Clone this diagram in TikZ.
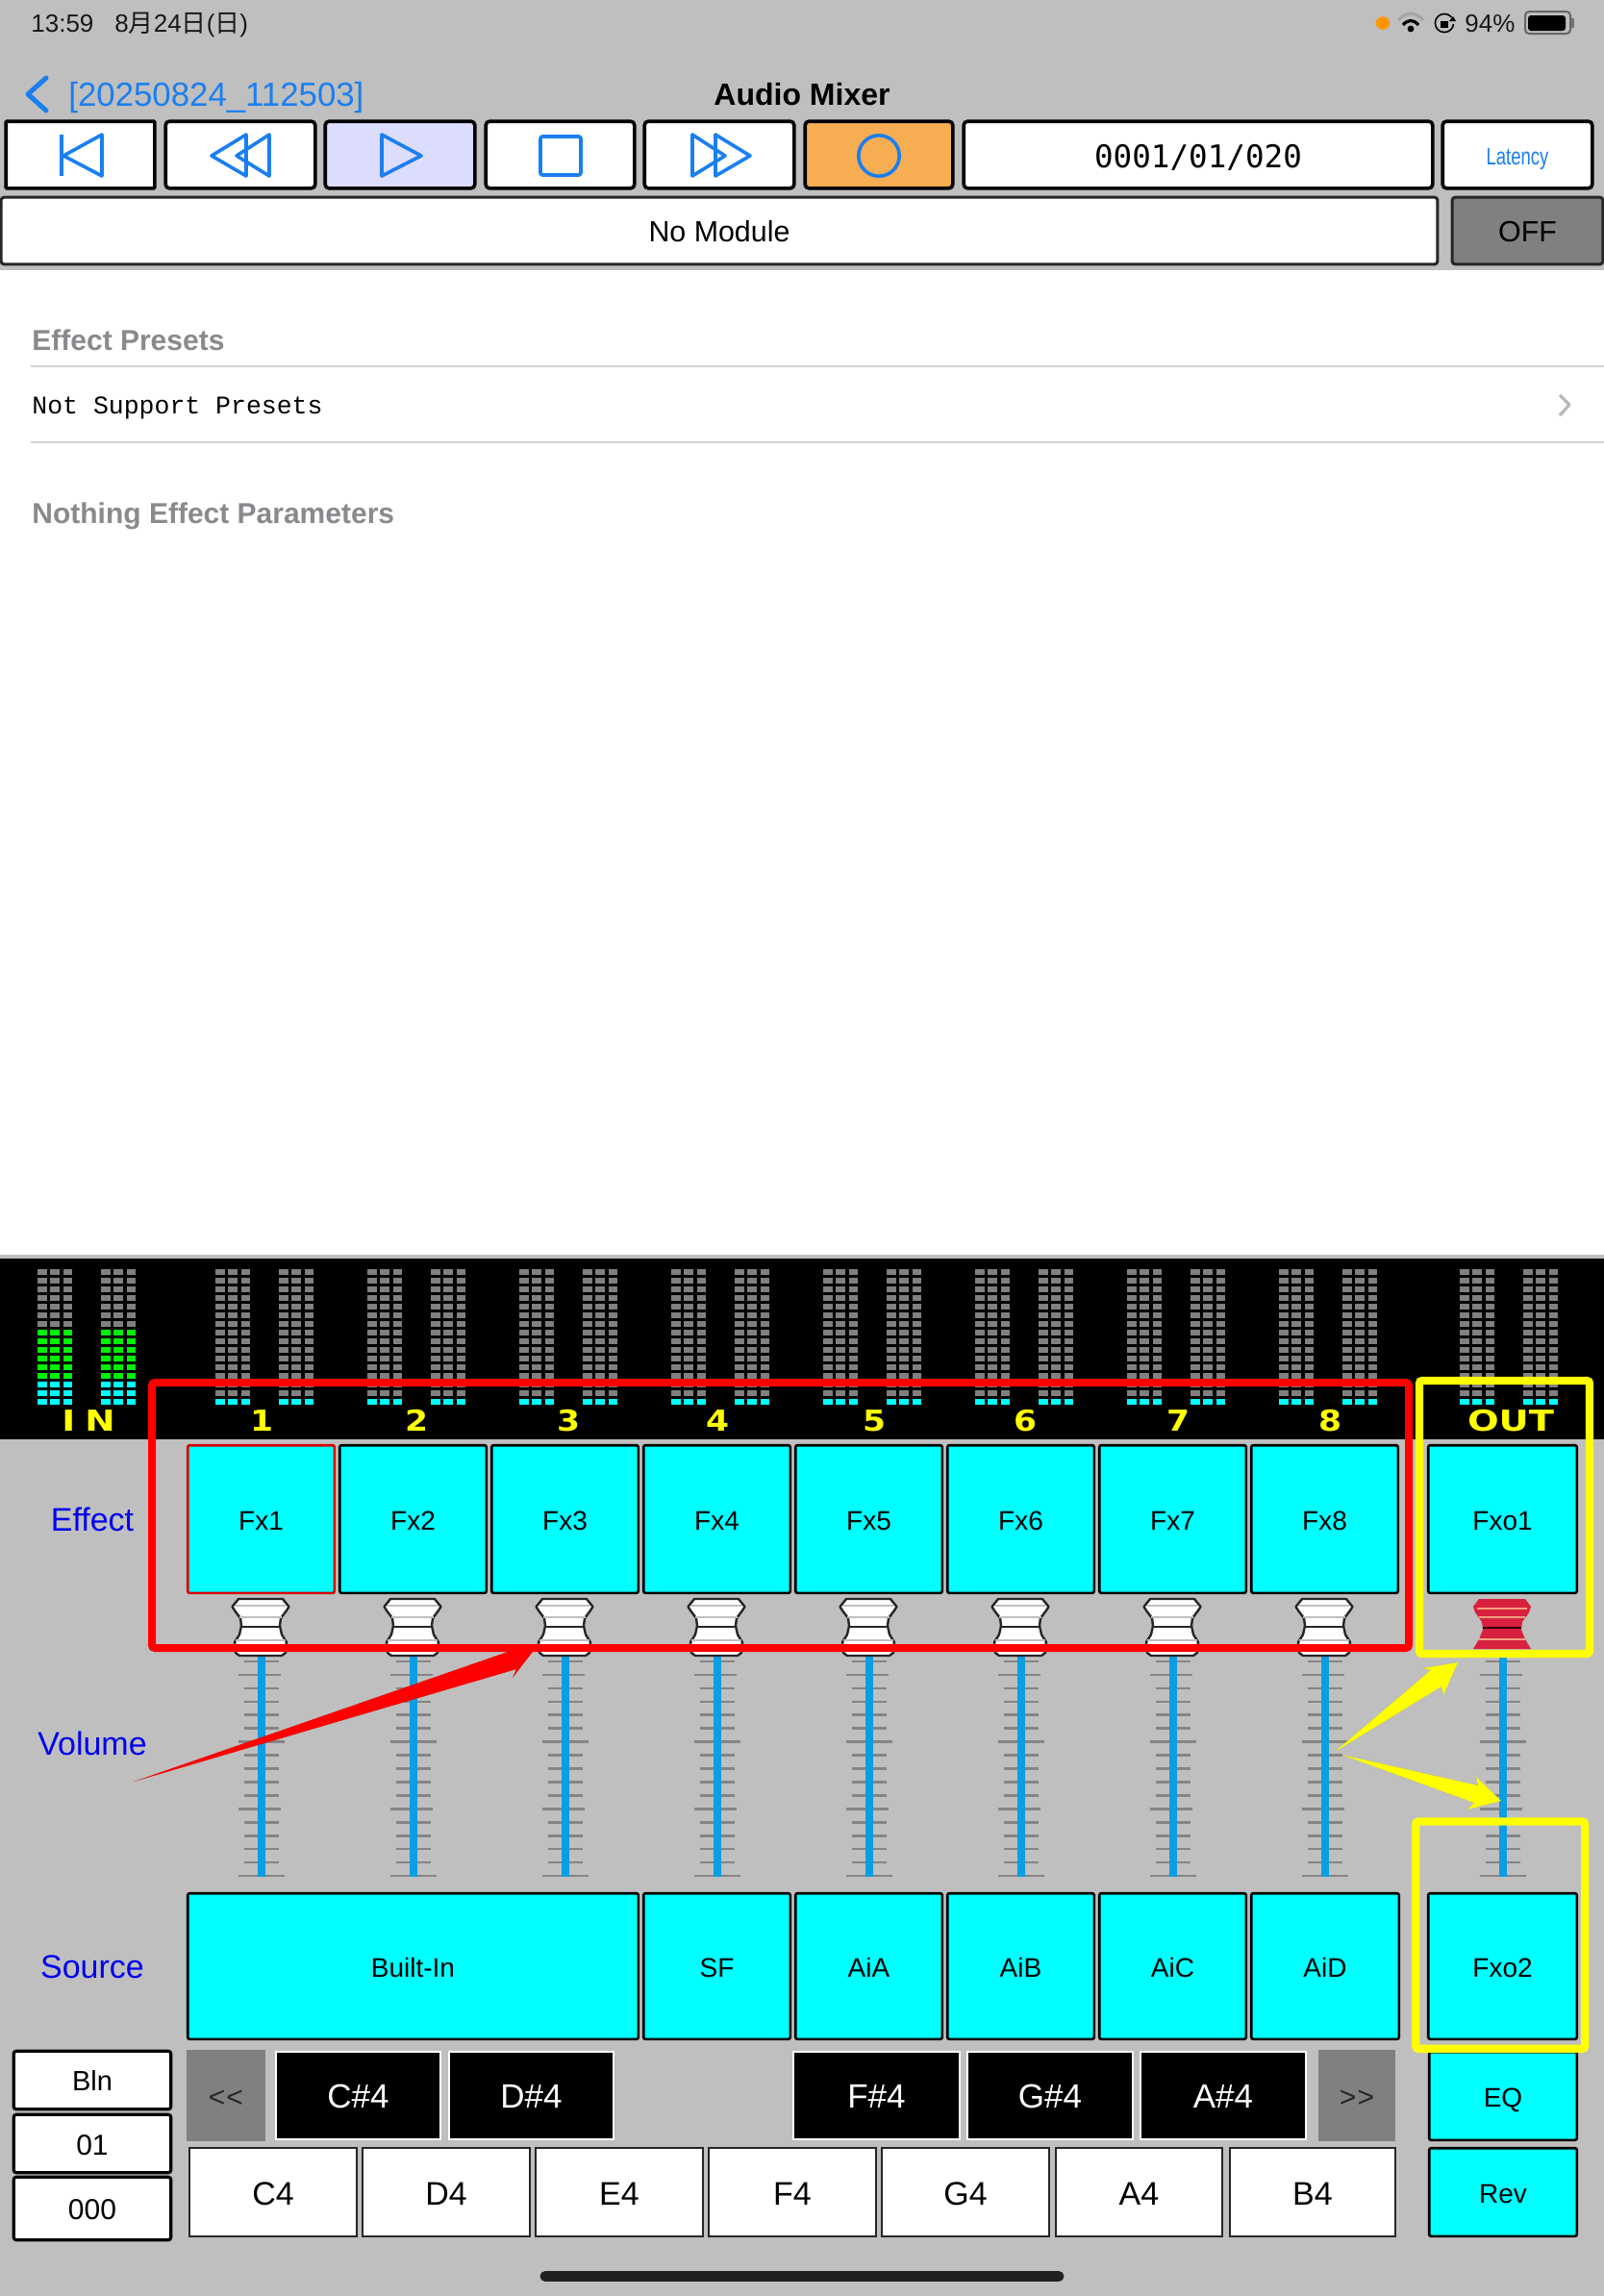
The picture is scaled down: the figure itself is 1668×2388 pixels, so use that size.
\documentclass[tikz,border=0pt]{standalone}
\usepackage{fontspec}
\setmainfont{Liberation Sans}
\newfontfamily\cjkfont{Noto Sans CJK JP}
\newfontfamily\monoa{DejaVu Sans Mono}
\newfontfamily\monob{Liberation Mono}
\newfontfamily\pixfont{DejaVu Sans}
\definecolor{uibg}{HTML}{BFBFBF}
\definecolor{uiblue}{HTML}{1A7FF0}
\definecolor{uicyan}{HTML}{00FFFF}
\definecolor{uiyellow}{HTML}{FFFF00}
\definecolor{uired}{HTML}{FF0000}
\definecolor{uigreen}{HTML}{00F000}
\definecolor{uiorange}{HTML}{FF9500}
\definecolor{faderblue}{HTML}{0C9DE3}
\definecolor{tickgray}{HTML}{858585}
\definecolor{dotgray}{HTML}{808080}
\definecolor{headgray}{HTML}{8A8A8E}
\definecolor{labelblue}{HTML}{0000EE}
\definecolor{playfill}{HTML}{DCDCFC}
\definecolor{recfill}{HTML}{F7AD52}
\definecolor{knobred}{HTML}{D8203F}
\definecolor{knobstripe}{HTML}{F5A080}
\newcommand{\fsz}[1]{\fontsize{#1}{#1}\selectfont}
\newcommand{\uibtn}[7]{%
  \pgfmathsetmacro\uicx{(#2+#4)/2}%
  \pgfmathsetmacro\uicy{(#3+#5)/2}%
  \pgfmathsetmacro\uiw{(#4-#2)*0.5-1.2}%
  \pgfmathsetmacro\uih{(#5-#3)*0.5-1.2}%
  \node[#6,minimum width=\uiw pt,minimum height=\uih pt] (#1) at (\uicx,\uicy)
    {\raisebox{0pt}[\dimexpr\fontcharht\font`X+1.4pt\relax][0pt]{#7}};}
\tikzset{
  x=0.5pt,y=-0.5pt,
  topbtn/.style={draw=black,line width=1.8pt,rounded corners=2pt,fill=white,inner sep=0pt},
  modbtn/.style={draw=black!85,line width=1.5pt,rounded corners=1.5pt,fill=white,inner sep=0pt,font=\fsz{15.2}},
  fxbtn/.style={draw=black,line width=1.3pt,rounded corners=1pt,fill=uicyan,inner sep=0pt,font=\fsz{14}},
  sidebtn/.style={draw=black,line width=1.6pt,rounded corners=1.5pt,fill=white,inner sep=0pt,font=\fsz{15}},
  blackkey/.style={draw=white,line width=1pt,fill=black,text=white,inner sep=0pt,font=\fsz{17.5}},
  whitekey/.style={draw=black!85,line width=1.2pt,fill=white,inner sep=0pt,font=\fsz{17}},
  navbtn/.style={fill=dotgray,inner sep=0pt,text=black!85,font=\fsz{15}},
  icon/.style={draw=uiblue,line width=1.8pt,line join=round},
  sidelabel/.style={text=labelblue,inner sep=0pt,font=\fsz{17}},
  chlabel/.style={text=uiyellow,inner sep=0pt,anchor=base,font=\pixfont\bfseries\fsz{15}},
  statustext/.style={inner sep=0pt,anchor=base west,font=\fsz{13},text=black!90},
  heading/.style={inner sep=0pt,anchor=base west,text=headgray,font=\bfseries\fsz{15}},
  sepline/.style={draw=black!18,line width=1pt},
  framered/.style={draw=uired,line width=4pt,rounded corners=1.5pt},
  frameyellow/.style={draw=uiyellow,line width=4.2pt,rounded corners=1.5pt},
  arrowshadow/.style={fill=black,opacity=0.25}
}
\begin{document}
\begin{tikzpicture}
\useasboundingbox (0,0) rectangle (1668,2388);
% backgrounds
\fill[uibg] (0,0) rectangle (1668,2388);
\fill[white] (0,281) rectangle (1668,1305);
\fill[black] (0,1309) rectangle (1668,1497);

% status bar
\node[statustext] (clock) at (32,33) {13:59};
\node[statustext] (date) at (119,33) {8{\cjkfont 月}24{\cjkfont 日}({\cjkfont 日})};
\fill[uiorange] (1438,24) ellipse (3.6pt and 3.4pt);
\draw[line width=1.6pt,black!35] (1454,21) .. controls (1462,12) and (1472,12) .. (1480,21);
\draw[line width=1.6pt,black] (1459,26) .. controls (1464,20) and (1470,20) .. (1475,26);
\fill[black] (1467,30) circle (1.7pt);
\draw[line width=0.8pt,black] (1502,24) circle (4.8pt);
\fill[uibg] (1509,18) rectangle (1514,25);
\fill[black] (1507,22) -- (1514,22) -- (1511,17) -- cycle;
\fill[black] (1498,22) rectangle (1506,29);
\node[statustext] (batterytext) at (1523,33) {94\%};
\draw[line width=1pt,black!60,rounded corners=2pt] (1586,12) rectangle (1633,35);
\fill[black,rounded corners=1.5pt] (1589,16) rectangle (1628,32);
\fill[black!55] (1634,19) rectangle (1637,29);

% navigation bar
\draw[draw=uiblue,line width=2.5pt,line cap=round,line join=round] (48,81) -- (29,98) -- (48,115);
\node[inner sep=0pt,anchor=base west,text=uiblue,font=\fsz{17.4}] (back) at (71,110) {[20250824\_112503]};
\node[inner sep=0pt,anchor=base,font=\bfseries\fsz{16}] (title) at (834,109) {Audio Mixer};

% transport buttons
\uibtn{tb1}{5}{125}{162}{197}{topbtn,rounded corners=0.5pt}{}
\uibtn{tb2}{171}{125}{329}{197}{topbtn}{}
\uibtn{tb3}{337}{125}{495}{197}{topbtn,fill=playfill}{}
\uibtn{tb4}{504}{125}{661}{197}{topbtn}{}
\uibtn{tb5}{669}{125}{827}{197}{topbtn}{}
\uibtn{tb6}{836}{125}{992}{197}{topbtn,fill=recfill}{}
\uibtn{timepos}{1001}{125}{1491}{197}{topbtn,font=\monoa\fsz{16.3}}{0001/01/020}
\uibtn{latency}{1499}{125}{1657}{197}{topbtn,text=uiblue,font=\fsz{12.5}}{\scalebox{0.74}[1]{Latency}}
\draw[icon] (64,140) -- (64,183);
\draw[icon] (66,162) -- (106,140) -- (106,183) -- cycle;
\draw[icon] (220,162) -- (256,140) -- (256,183) -- cycle;
\draw[icon] (246,162) -- (280,140) -- (280,183) -- cycle;
\draw[icon] (397,140) -- (397,183) -- (438,162) -- cycle;
\draw[icon,rounded corners=1pt] (562,142) rectangle (604,182);
\draw[icon] (720,140) -- (720,183) -- (754,162) -- cycle;
\draw[icon] (744,140) -- (744,183) -- (780,162) -- cycle;
\draw[icon] (914,162) circle (10.6pt);

% module row
\uibtn{module}{0}{204}{1496}{276}{modbtn}{No Module}
\uibtn{offbtn}{1509}{204}{1668}{276}{modbtn,fill=dotgray,text=black}{OFF}

% list area
\node[heading] (presets) at (33,364) {Effect Presets};
\draw[sepline] (32,381) -- (1668,381);
\node[inner sep=0pt,anchor=base west,font=\monob\fsz{13.25}] (nosupport) at (33,430) {Not Support Presets};
\draw[draw=black!28,line width=1.6pt,line join=round] (1622,411) -- (1632,421) -- (1622,432);
\draw[sepline] (32,460) -- (1668,460);
\node[heading] (params) at (33,544) {Nothing Effect Parameters};

% level meters
\foreach \mx in {39,105,224,290,382,448,540,606,698,764,856,922,1014,1080,1172,1238,1330,1396,1518,1584}{
  \foreach \col in {0,1,2}{
    \foreach \row in {0,...,15}{
      \pgfmathsetmacro\dx{\mx+13.3*\col}
      \pgfmathsetmacro\dy{1323.3+8.96*\row}
      \pgfmathtruncatemacro\isin{\mx<200 ? 1 : 0}
      \ifnum\isin=1
        \ifnum\row<7 \def\dotc{dotgray}\else\ifnum\row<13 \def\dotc{uigreen}\else\def\dotc{uicyan}\fi\fi
      \else
        \ifnum\row<15 \def\dotc{dotgray}\else\def\dotc{uicyan}\fi
      \fi
      \fill[\dotc] (\dx,\dy-3) rectangle (\dx+9.6,\dy+3);
    }
  }
}
% channel labels
\node[chlabel] (lblin) at (92,1488) {\scalebox{1.25}[1]{I\kern4pt N}};
\foreach \lx/\lt in {272/1,433/2,591/3,746/4,909/5,1066/6,1225/7,1383/8}{
  \node[chlabel] (lbl\lt) at (\lx,1488) {\scalebox{1.15}[1]{\lt}};
}
\node[chlabel] (lblout) at (1571,1488) {\scalebox{1.28}[1]{OUT}};

% side labels
\node[sidelabel] (leffect) at (96,1580) {Effect};
\node[sidelabel] (lvolume) at (96,1813) {Volume};
\node[sidelabel] (lsource) at (96,2046) {Source};

% effect buttons
\foreach \i in {2,...,8}{
  \pgfmathtruncatemacro\xa{194+158*(\i-1)}
  \pgfmathtruncatemacro\xb{\xa+155}
  \uibtn{fx\i}{\xa}{1502}{\xb}{1658}{fxbtn}{Fx\i}
}
\uibtn{fx1}{194}{1502}{349}{1658}{fxbtn,draw=uired!85!black}{Fx1}
\uibtn{fxo1}{1484}{1502}{1641}{1658}{fxbtn}{Fxo1}

% faders
\foreach \fx in {272,430,588,746,904,1062,1220,1378,1563}{
  \foreach \t in {0,2,3,4,5,7,8,9,10,12,13,14,15}{
    \draw[tickgray,line width=1.3pt] (\fx-18,1728+13.94*\t) -- (\fx+18,1728+13.94*\t);
  }
  \foreach \t in {1,11}{
    \draw[tickgray,line width=1.3pt] (\fx-24,1728+13.94*\t) -- (\fx+20,1728+13.94*\t);
  }
  \foreach \t in {6,16}{
    \draw[tickgray,line width=1.3pt] (\fx-24,1728+13.94*\t) -- (\fx+24,1728+13.94*\t);
  }
  \draw[faderblue,line width=4.3pt] (\fx,1722) -- (\fx,1952);
}
% white knobs
\foreach \kx in {271,429,587,745,903,1061,1219,1377}{
  \begin{scope}[shift={(\kx,1663)}]
    \filldraw[fill=white,draw=black!85,line width=1.2pt,line join=round]
      (-23,0) -- (23,0) -- (27,5) -- (29.5,8) -- (27,12) -- (21,20) -- (20,28) -- (22,37)
      -- (27,45) -- (26,56) -- (22,59) -- (-22,59) -- (-26,56) -- (-27,45) -- (-22,37)
      -- (-20,28) -- (-21,20) -- (-27,12) -- (-29.5,8) -- (-27,5) -- cycle;
    \draw[black!25,line width=1pt] (-26,7) -- (26,7);
    \draw[black!25,line width=1pt] (-22,19) -- (22,19);
    \draw[black!85,line width=1.2pt] (-20,29) -- (20,29);
    \draw[black!25,line width=1pt] (-26,43) -- (26,43);
  \end{scope}
}
% red knob
\begin{scope}[shift={(1562,1663)}]
  \fill[knobred] (-24,0) -- (24,0) -- (30,8) -- (28,14) -- (21,24) -- (20,32) -- (24,42)
     -- (30,52) -- (-30,52) -- (-24,42) -- (-20,32) -- (-21,24) -- (-28,14) -- (-30,8) -- cycle;
  \draw[knobstripe,line width=1pt] (-26,10) -- (26,10);
  \draw[knobstripe,line width=1pt] (-24,19) -- (24,19);
  \draw[black!80!red,line width=1.2pt] (-20,30) -- (20,30);
  \draw[knobstripe,line width=1pt] (-24,42) -- (24,42);
\end{scope}

% source buttons
\uibtn{builtin}{194}{1968}{665}{2122}{fxbtn}{Built-In}
\uibtn{sf}{668}{1968}{823}{2122}{fxbtn}{SF}
\uibtn{aia}{826}{1968}{981}{2122}{fxbtn}{AiA}
\uibtn{aib}{984}{1968}{1139}{2122}{fxbtn}{AiB}
\uibtn{aic}{1142}{1968}{1297}{2122}{fxbtn}{AiC}
\uibtn{aid}{1300}{1968}{1456}{2122}{fxbtn}{AiD}
\uibtn{fxo2}{1484}{1968}{1641}{2122}{fxbtn}{Fxo2}
\uibtn{eq}{1485}{2133}{1641}{2227}{fxbtn}{EQ}
\uibtn{rev}{1485}{2233}{1641}{2327}{fxbtn}{Rev}

% bank selectors
\uibtn{bln}{13}{2132}{179}{2195}{sidebtn,font=\fsz{14.5}}{Bln}
\uibtn{bank}{13}{2198}{179}{2261}{sidebtn}{01}
\uibtn{prog}{13}{2263}{179}{2331}{sidebtn}{000}

% keyboard
\uibtn{prev}{193}{2131}{277}{2228}{navbtn}{<\kern0.5pt<}
\uibtn{next}{1370}{2131}{1452}{2228}{navbtn}{>\kern0.5pt>}
\uibtn{kcs}{286}{2133}{459}{2226}{blackkey}{C\#4}
\uibtn{kds}{466}{2133}{639}{2226}{blackkey}{D\#4}
\uibtn{kfs}{824}{2133}{999}{2226}{blackkey}{F\#4}
\uibtn{kgs}{1005}{2133}{1179}{2226}{blackkey}{G\#4}
\uibtn{kas}{1185}{2133}{1359}{2226}{blackkey}{A\#4}
\uibtn{kc}{196}{2233}{372}{2327}{whitekey}{C4}
\uibtn{kd}{376}{2233}{552}{2327}{whitekey}{D4}
\uibtn{ke}{556}{2233}{732}{2327}{whitekey}{E4}
\uibtn{kf}{736}{2233}{912}{2327}{whitekey}{F4}
\uibtn{kg}{916}{2233}{1092}{2327}{whitekey}{G4}
\uibtn{ka}{1097}{2233}{1272}{2327}{whitekey}{A4}
\uibtn{kb}{1278}{2233}{1452}{2327}{whitekey}{B4}

% home bar
\draw[draw=black!87,line width=5.5pt,line cap=round] (567,2367.5) -- (1101,2367.5);

% annotation frames
\node[framered,fill=none,inner sep=0pt,minimum width=653.5pt,minimum height=138pt] (redframe) at (811.5,1576) {};
\node[frameyellow,fill=none,inner sep=0pt,minimum width=88.5pt,minimum height=142pt] (yellowone) at (1564.5,1578) {};
\node[frameyellow,fill=none,inner sep=0pt,minimum width=88pt,minimum height=118.2pt] (yellowtwo) at (1560.2,2012.7) {};

% annotation arrows
\coordinate (ra) at (139,1853);
\coordinate (rb) at (528,1718);
\coordinate (rc) at (523,1714);
\coordinate (rd) at (560,1710);
\coordinate (re) at (533,1745);
\coordinate (rf) at (537,1736);
\fill[arrowshadow,shift={(1,1.5)}] (ra) -- (rb) -- (rc) -- (rd) -- (re) -- (rf) -- cycle;
\fill[uired] (ra) -- (rb) -- (rc) -- (rd) -- (re) -- (rf) -- cycle;

\coordinate (ya) at (1388,1822);
\coordinate (yb) at (1488,1737);
\coordinate (yc) at (1480,1735);
\coordinate (yd) at (1516,1729);
\coordinate (ye) at (1501,1763);
\coordinate (yf) at (1499,1754);
\fill[arrowshadow,shift={(1,1.5)}] (ya) -- (yb) -- (yc) -- (yd) -- (ye) -- (yf) -- cycle;
\fill[uiyellow] (ya) -- (yb) -- (yc) -- (yd) -- (ye) -- (yf) -- cycle;

\coordinate (za) at (1395,1825);
\coordinate (zb) at (1537,1857);
\coordinate (zc) at (1535,1848);
\coordinate (zd) at (1561,1873);
\coordinate (ze) at (1526,1882);
\coordinate (zf) at (1533,1875);
\fill[arrowshadow,shift={(1,1.5)}] (za) -- (zb) -- (zc) -- (zd) -- (ze) -- (zf) -- cycle;
\fill[uiyellow] (za) -- (zb) -- (zc) -- (zd) -- (ze) -- (zf) -- cycle;
\end{tikzpicture}
\end{document}
